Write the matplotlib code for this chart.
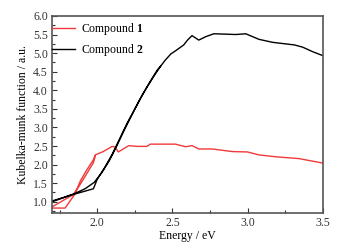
import numpy as np
import matplotlib
matplotlib.use('Agg')
import matplotlib.pyplot as plt
from matplotlib.ticker import MultipleLocator

plt.rcParams['font.family'] = ['Liberation Serif', 'DejaVu Serif']
plt.rcParams['mathtext.fontset'] = 'custom'
plt.rcParams['mathtext.rm'] = 'Liberation Serif'
plt.rcParams['mathtext.bf'] = 'Liberation Serif:bold'

# Compound 1 (red) - scan goes high->low energy, then back up at the low end
energy_1 = [3.50, 3.42, 3.342, 3.187, 3.075, 2.998, 2.898, 2.765, 2.675, 2.63,
            2.587, 2.52, 2.353, 2.33, 2.265, 2.21, 2.165, 2.14, 2.12, 2.10,
            2.04, 1.987, 1.975, 1.93, 1.887, 1.853, 1.787, 1.70,
            1.70, 1.84, 1.88, 1.93, 1.975, 1.987]
kmf_1 = [2.04, 2.10, 2.16, 2.21, 2.26, 2.34, 2.35, 2.42, 2.42, 2.51,
         2.48, 2.55, 2.55, 2.49, 2.49, 2.51, 2.40, 2.34, 2.47, 2.49,
         2.35, 2.26, 2.13, 1.85, 1.55, 1.21, 0.83, 0.83,
         0.86, 1.19, 1.42, 1.75, 2.05, 2.22]

# Compound 2 (black)
energy_2 = [3.50, 3.43, 3.365, 3.31, 3.165, 3.075, 2.987, 2.92, 2.853, 2.775,
            2.72, 2.675, 2.63, 2.60, 2.575, 2.52, 2.49, 2.45, 2.42, 2.38,
            2.33, 2.28, 2.23, 2.18, 2.13, 2.08, 2.03, 1.98, 1.92, 1.85,
            1.78, 1.70,
            1.70, 1.82, 1.975, 2.00, 2.05, 2.10, 2.15, 2.20, 2.25, 2.30,
            2.35, 2.40, 2.42]
kmf_2 = [4.93, 5.04, 5.16, 5.22, 5.29, 5.37, 5.52, 5.50, 5.51, 5.52,
         5.44, 5.35, 5.47, 5.35, 5.22, 5.06, 4.98, 4.80, 4.64, 4.40,
         4.08, 3.72, 3.33, 2.93, 2.50, 2.10, 1.78, 1.52, 1.35, 1.22,
         1.12, 1.02,
         1.00, 1.17, 1.35, 1.60, 1.92, 2.28, 2.70, 3.12, 3.50, 3.88,
         4.22, 4.55, 4.64]

fig = plt.figure(figsize=(3.49, 2.49), dpi=100)
ax = fig.add_axes([0.149, 0.145, 0.7765, 0.791])

ax.plot(energy_1, kmf_1, color='#f03a3a', lw=1.0, label=r'Compound $\mathbf{1}$')
ax.plot(energy_2, kmf_2, color='black', lw=1.0, label=r'Compound $\mathbf{2}$')

ax.set_xlim(1.7, 3.5)
ax.set_ylim(0.7, 6.0)
ax.xaxis.set_major_locator(MultipleLocator(0.5))
ax.xaxis.set_minor_locator(MultipleLocator(0.25))
ax.yaxis.set_major_locator(MultipleLocator(0.5))
ax.yaxis.set_minor_locator(MultipleLocator(0.25))
ax.tick_params(which='both', direction='in', labelsize=8.5, colors='#333333',
               top=False, right=False, pad=3)
ax.tick_params(which='major', length=3.5, width=0.8)
ax.tick_params(which='minor', length=2.5, width=0.8)
for s in ax.spines.values():
    s.set_color('#555555')
    s.set_linewidth(1.2)

ax.set_xlabel('Energy / eV', fontsize=8.5, labelpad=1)
ax.set_ylabel('Kubelka-munk function / a.u.', fontsize=8.5, labelpad=3)

ax.legend(loc='upper left', bbox_to_anchor=(0.0, 0.975), frameon=False,
          fontsize=8.5, handlelength=1.95, handletextpad=0.5,
          borderaxespad=0.0, borderpad=0.0, labelspacing=0.42)

fig.savefig('out.png', dpi=100)
